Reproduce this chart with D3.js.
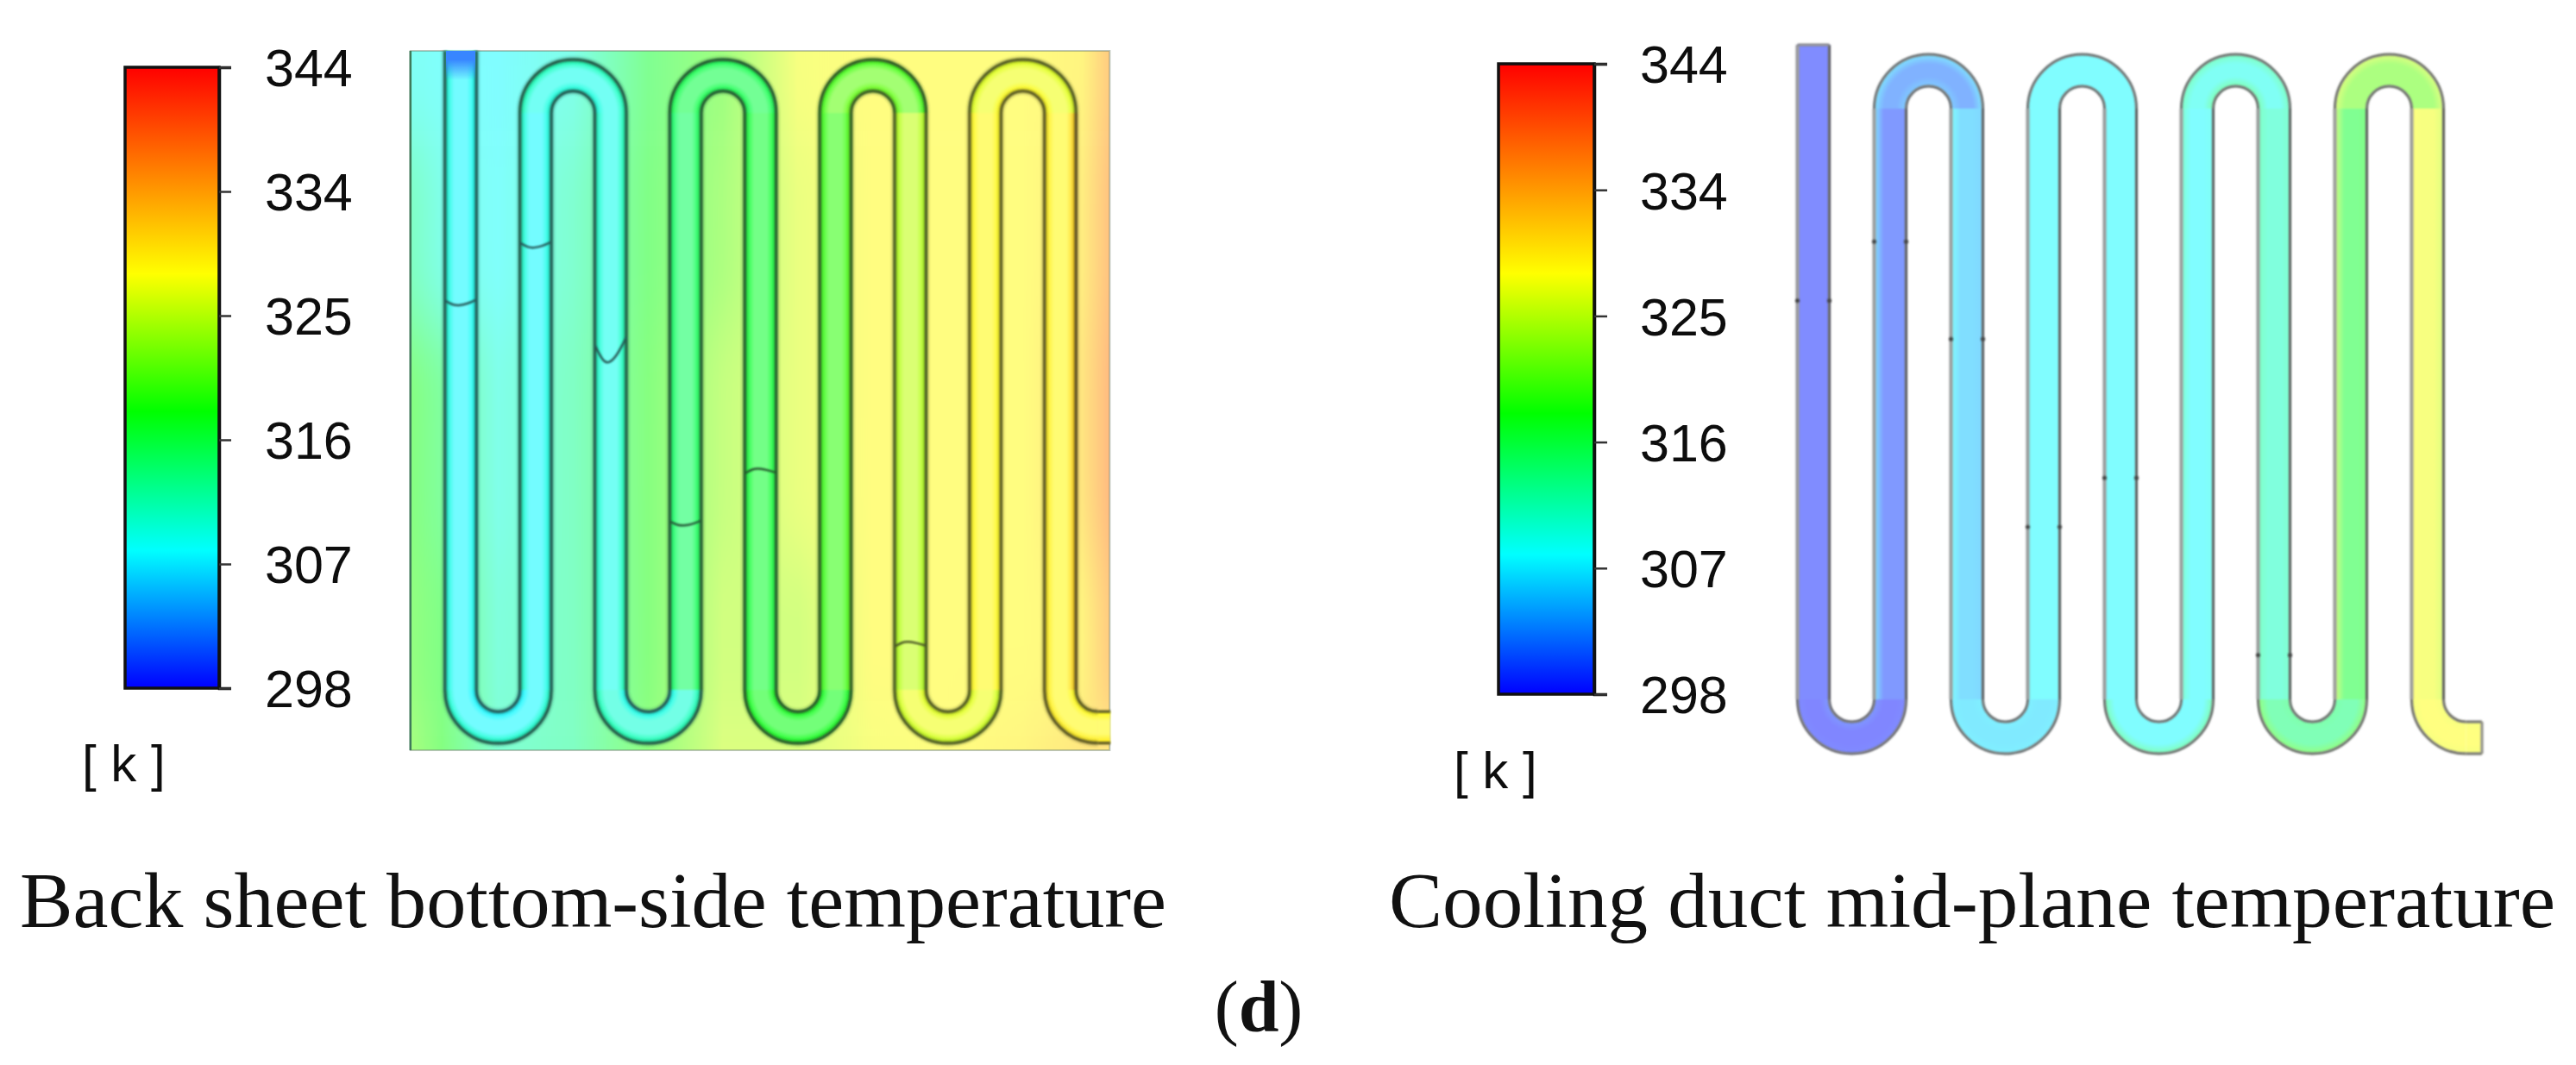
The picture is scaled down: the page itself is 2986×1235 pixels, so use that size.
<!DOCTYPE html>
<html>
<head>
<meta charset="utf-8">
<script src="https://cdn.jsdelivr.net/npm/d3@7"></script>
<style>
body { margin: 0; background: #fff; }
text { fill: #111; }
</style>
</head>
<body>
<div id="chart"></div>
<script>
// colour legend, same for both panels
var barTicks = [298, 307.2, 316.4, 325.6, 334.8, 344];
var barLabels = ["298", "307", "316", "325", "334", "344"];
var jetTemps = [298, 308.2, 318.5, 328.7, 344];
var jetColors = ["#0000ff", "#00ffff", "#00ff00", "#ffff00", "#ff0000"];

var sheetU = [-0.67, -0.25, 0.5, 1.5, 2.5, 3.5, 4.5, 5.5, 6.5, 7.5, 8.3, 8.66];
var sheetRowAt = [0.01, 0.24, 0.54, 0.91, 1];
var sheetRows = [
    [309, 308.5, 308, 310, 317, 321, 328, 329, 329, 329, 330, 335],
    [313, 310, 308.5, 312, 318, 322, 327, 329, 329, 329, 331, 336],
    [319, 316, 310, 313, 319, 324, 327, 329, 329, 329, 332, 337],
    [320, 318, 311, 313, 319, 325, 325, 329, 329, 329, 330, 335],
    [322, 319, 312, 313, 320, 326, 326, 328, 329, 330, 332, 331]
];

// duct temps across each pass: left wall, middle, right wall
var sheetPass = [
    [310, 308, 309], [311, 308, 310], [311, 309, 312], [315, 315, 316], [317, 317, 317],
    [320, 320, 321], [325, 326, 325], [329, 329, 329], [330, 329, 332]
];
// across each bend: inner wall, middle, outer wall
var sheetBottom = [[308, 308, 311], [309, 310, 312], [318, 318, 318], [327, 328, 326], [329, 329, 330]];
var sheetTop = [[310, 309, 312], [316, 316, 316], [322, 322, 320], [329, 328, 327]];

var midPass = [
    [299, 299, 299], [306, 300, 300], [308, 305.5, 305], [308, 308, 308], [308, 308, 308],
    [312, 308, 309], [313, 311, 312], [325, 317, 318], [328.7, 328, 326]
];
var midBottom = [[300, 298.5, 299], [307, 306.5, 307], [308, 308, 314], [315, 314, 320], [328, 328.7, 328]];
var midTop = [[304, 302, 306], [308, 308, 308], [314, 309, 313], [322, 322, 326]];

// little kinks on the duct walls: which pass, how far along it, how deep
var kinkPass = [0, 1, 2, 3, 4, 6];
var kinkAt = [0.325, 0.225, 0.39, 0.708, 0.625, 0.925];
var kinkDepth = [6, 6, 30, 5, -6, -6];

var width = 2986, height = 1235;
var svg = d3.select("#chart").append("svg")
    .attr("width", width)
    .attr("height", height)
    .style("display", "block");
var defs = svg.append("defs");

var jet = d3.scaleLinear().domain(jetTemps).range(jetColors).clamp(true);
function tint(t, white) {
    return d3.interpolateRgb(jet(t), "#ffffff")(white);
}

var soft = defs.append("filter").attr("id", "soft");
soft.append("feGaussianBlur").attr("stdDeviation", 1.2);
var softText = defs.append("filter").attr("id", "softText");
softText.append("feGaussianBlur").attr("stdDeviation", 0.6);
var sheetBlur = defs.append("filter").attr("id", "sheetBlur")
    .attr("x", "-5%").attr("y", "-60%").attr("width", "110%").attr("height", "220%");
sheetBlur.append("feGaussianBlur").attr("stdDeviation", "0 45");

var barGrad = defs.append("linearGradient").attr("id", "barGrad")
    .attr("x1", 0).attr("y1", 1).attr("x2", 0).attr("y2", 0);
jetTemps.forEach(function (t, i) {
    barGrad.append("stop")
        .attr("offset", (t - 298) / 46)
        .attr("stop-color", jetColors[i]);
});

function drawBar(x0, x1, yTop, yBottom, tickLen, padding, unitX, unitY) {
    var y = d3.scaleLinear().domain([298, 344]).range([yBottom, yTop]);
    svg.append("rect")
        .attr("x", x0).attr("y", yTop)
        .attr("width", x1 - x0).attr("height", yBottom - yTop)
        .attr("fill", "url(#barGrad)")
        .attr("stroke", "#111")
        .attr("stroke-width", 3.5);

    var axis = d3.axisRight(y)
        .tickValues(barTicks)
        .tickFormat(function (d, i) { return barLabels[i]; })
        .tickSize(tickLen)
        .tickPadding(padding);
    var g = svg.append("g")
        .attr("transform", "translate(" + x1 + ",0)")
        .call(axis);
    g.select(".domain").attr("stroke", "#111").attr("stroke-width", 3.5);
    g.selectAll(".tick line").attr("stroke", "#333").attr("stroke-width", 2.5);
    g.selectAll(".tick text")
        .attr("font-family", "'Liberation Sans', Arial, sans-serif")
        .attr("font-size", 61)
        .attr("fill", "#111")
        .attr("dy", "0.358em")
        .attr("filter", "url(#softText)");

    svg.append("text")
        .attr("x", unitX).attr("y", unitY)
        .attr("font-family", "'Liberation Sans', Arial, sans-serif")
        .attr("font-size", 60)
        .attr("filter", "url(#softText)")
        .text("[ k ]");
}

var gradCount = 0;
// stops across a duct section; white is how washed out the colour is at wall and middle
function addStops(grad, temps, whiteEdge, whiteMid, from, to) {
    var off = function (f) { return from + (to - from) * f; };
    grad.append("stop").attr("offset", off(0)).attr("stop-color", tint(temps[0], whiteEdge));
    grad.append("stop").attr("offset", off(0.3)).attr("stop-color", tint(temps[1], whiteMid));
    grad.append("stop").attr("offset", off(0.7)).attr("stop-color", tint(temps[1], whiteMid));
    grad.append("stop").attr("offset", off(1)).attr("stop-color", tint(temps[2], whiteEdge));
}

function drawPanel(p) {
    var g = svg.append("g").attr("filter", "url(#soft)");
    var x = d3.scaleLinear().domain([0, 8]).range(p.xRange);
    var y = d3.scaleLinear().domain([0, 1]).range(p.yRange);
    var w = p.ductWidth;
    var r = (x(1) - x(0)) / 2;
    var walls = svg.append("g").attr("filter", "url(#soft)");

    function wallColor(t, side) {
        if (p.grayWalls) return side < 0 ? "#9a9a9a" : "#5c5c5c";
        return d3.interpolateRgb(jet(t), "#303030")(0.8);
    }

    // straight passes
    p.pass.forEach(function (temps, i) {
        var id = "pass" + (gradCount++);
        var grad = defs.append("linearGradient").attr("id", id);
        addStops(grad, temps, p.whiteEdge, p.whiteMid, 0, 1);
        var top = i == 0 ? p.inletY : y(0);
        var bottom = y(1);
        g.append("rect")
            .attr("x", x(i) - w / 2).attr("y", top)
            .attr("width", w).attr("height", bottom - top)
            .attr("fill", "url(#" + id + ")");
    });

    // bends: radial gradient goes inner wall -> outer wall
    function bend(temps, cx, cy, a0, a1) {
        var id = "bend" + (gradCount++);
        var rOut = r + w / 2, rIn = r - w / 2;
        // centred on 0,0 because the path itself gets translated
        var grad = defs.append("radialGradient").attr("id", id)
            .attr("gradientUnits", "userSpaceOnUse")
            .attr("cx", 0).attr("cy", 0).attr("r", rOut);
        addStops(grad, temps, p.whiteEdge, p.whiteMid, rIn / rOut, 1);
        var arc = d3.arc().innerRadius(rIn).outerRadius(rOut).startAngle(a0).endAngle(a1);
        g.append("path")
            .attr("d", arc())
            .attr("transform", "translate(" + cx + "," + cy + ")")
            .attr("fill", "url(#" + id + ")");
        [rIn, rOut].forEach(function (rad, k) {
            var wall = d3.arc().innerRadius(rad).outerRadius(rad).startAngle(a0).endAngle(a1);
            var colour = p.grayWalls ? "#6e6e6e" : wallColor(temps[k * 2], 0);
            if (!p.grayWalls) {
                walls.append("path")
                    .attr("d", wall())
                    .attr("transform", "translate(" + cx + "," + cy + ")")
                    .attr("fill", "none")
                    .attr("stroke", colour)
                    .attr("stroke-opacity", 0.22)
                    .attr("stroke-width", 8);
            }
            walls.append("path")
                .attr("d", wall())
                .attr("transform", "translate(" + cx + "," + cy + ")")
                .attr("fill", "none")
                .attr("stroke", colour)
                .attr("stroke-width", p.wallWidth);
        });
    }

    p.top.forEach(function (temps, i) {
        bend(temps, x(2 * i + 1.5), y(0), -Math.PI / 2, Math.PI / 2);
    });
    p.bottom.forEach(function (temps, i) {
        if (i < 4) {
            bend(temps, x(2 * i + 0.5), y(1), Math.PI / 2, Math.PI * 1.5);
        } else {
            // last pass only turns a quarter and runs out to the right
            var cx = x(8) + r;
            bend(temps, cx, y(1), Math.PI, Math.PI * 1.5);
            var id = "tail" + (gradCount++);
            var grad = defs.append("linearGradient").attr("id", id)
                .attr("x1", 0).attr("y1", 0).attr("x2", 0).attr("y2", 1);
            addStops(grad, temps, p.whiteEdge, p.whiteMid, 0, 1);
            g.append("rect")
                .attr("x", cx).attr("y", y(1) + r - w / 2)
                .attr("width", p.tailEnd - cx).attr("height", w)
                .attr("fill", "url(#" + id + ")");
            [r - w / 2, r + w / 2].forEach(function (dy, k) {
                walls.append("line")
                    .attr("x1", cx).attr("x2", p.tailEnd)
                    .attr("y1", y(1) + dy).attr("y2", y(1) + dy)
                    .attr("stroke", p.grayWalls ? "#6e6e6e" : wallColor(temps[k * 2], 0))
                    .attr("stroke-width", p.wallWidth);
            });
            if (p.grayWalls) {
                walls.append("line")
                    .attr("x1", p.tailEnd).attr("x2", p.tailEnd)
                    .attr("y1", y(1) + r - w / 2).attr("y2", y(1) + r + w / 2)
                    .attr("stroke", "#8a8a8a").attr("stroke-width", p.wallWidth);
            }
        }
    });

    // walls of the passes
    p.pass.forEach(function (temps, i) {
        [-1, 1].forEach(function (side) {
            var colour = wallColor(side < 0 ? temps[0] : temps[2], side);
            var wallX = x(i) + side * w / 2;
            var top = i == 0 ? p.inletY : y(0);
            if (!p.grayWalls) {
                walls.append("line")
                    .attr("x1", wallX).attr("x2", wallX)
                    .attr("y1", top).attr("y2", y(1))
                    .attr("stroke", colour)
                    .attr("stroke-opacity", 0.22)
                    .attr("stroke-width", 8);
            }
            walls.append("line")
                .attr("x1", wallX).attr("x2", wallX)
                .attr("y1", top).attr("y2", y(1))
                .attr("stroke", colour)
                .attr("stroke-width", p.grayWalls && side < 0 ? p.wallWidth + 1 : p.wallWidth);
        });
    });

    // kinks
    var kink = d3.line().curve(d3.curveBasis);
    kinkPass.forEach(function (pass, i) {
        var cx = x(pass), cy = y(kinkAt[i]), d = kinkDepth[i];
        if (p.grayWalls) {
            [-1, 1].forEach(function (side) {
                walls.append("circle")
                    .attr("cx", cx + side * w / 2).attr("cy", cy)
                    .attr("r", 2.6)
                    .attr("fill", "#444");
            });
        } else {
            var pts = [
                [cx - w / 2, cy + (d > 10 ? 8 : 0)],
                [cx - w / 4, cy + d * 0.9],
                [cx - w / 16, cy + d],
                [cx + w / 5, cy + d * 0.7],
                [cx + w / 2, cy - 1]
            ];
            walls.append("path")
                .attr("d", kink(pts))
                .attr("fill", "none")
                .attr("stroke", wallColor(p.pass[pass][1], 0))
                .attr("stroke-width", 2.5);
        }
    });

    if (p.grayWalls) {
        walls.append("line")
            .attr("x1", x(0) - w / 2).attr("x2", x(0) + w / 2)
            .attr("y1", p.inletY).attr("y2", p.inletY)
            .attr("stroke", "#8a8a8a").attr("stroke-width", p.wallWidth);
    }
}

function drawSheet(p) {
    var clip = defs.append("clipPath").attr("id", "sheetClip");
    var x = d3.scaleLinear().domain([0, 8]).range(p.xRange);
    var y = d3.scaleLinear().domain([0, 1]).range(p.sheetY);
    var x0 = x(sheetU[0]), x1 = x(sheetU[sheetU.length - 1]);
    clip.append("rect")
        .attr("x", x0).attr("y", p.sheetY[0])
        .attr("width", x1 - x0).attr("height", p.sheetY[1] - p.sheetY[0]);

    var outer = svg.append("g").attr("clip-path", "url(#sheetClip)");
    var rows = outer.append("g").attr("filter", "url(#sheetBlur)");
    sheetRows.forEach(function (row, i) {
        var id = "sheetRow" + i;
        var grad = defs.append("linearGradient").attr("id", id);
        row.forEach(function (t, j) {
            grad.append("stop")
                .attr("offset", (x(sheetU[j]) - x0) / (x1 - x0))
                .attr("stop-color", tint(t, 0.5));
        });
        var top = i == 0 ? y(0) - 150 : (y(sheetRowAt[i - 1]) + y(sheetRowAt[i])) / 2;
        var bottom = i == sheetRows.length - 1 ? y(1) + 150 : (y(sheetRowAt[i]) + y(sheetRowAt[i + 1])) / 2;
        rows.append("rect")
            .attr("x", x0).attr("y", top)
            .attr("width", x1 - x0).attr("height", bottom - top)
            .attr("fill", "url(#" + id + ")");
    });

    // thin border of the sheet
    svg.append("rect")
        .attr("x", x0).attr("y", p.sheetY[0])
        .attr("width", x1 - x0).attr("height", p.sheetY[1] - p.sheetY[0])
        .attr("fill", "none")
        .attr("stroke", "#6b7f6b")
        .attr("stroke-opacity", 0.45)
        .attr("stroke-width", 2);
    svg.append("line")
        .attr("x1", x0).attr("x2", x0)
        .attr("y1", p.sheetY[0]).attr("y2", p.sheetY[1])
        .attr("stroke", "#3f7a5a")
        .attr("stroke-width", 2.5);
}

var leftPanel = {
    xRange: [534, 1229], yRange: [131, 800], ductWidth: 36.5, inletY: 59, tailEnd: 1287,
    sheetY: [59, 870],
    pass: sheetPass, top: sheetTop, bottom: sheetBottom,
    whiteEdge: 0.08, whiteMid: 0.45, wallWidth: 3.2, grayWalls: false
};
var rightPanel = {
    xRange: [2102, 2814], yRange: [126, 811], ductWidth: 37, inletY: 52, tailEnd: 2877,
    pass: midPass, top: midTop, bottom: midBottom,
    whiteEdge: 0.5, whiteMid: 0.5, wallWidth: 3, grayWalls: true
};

drawBar(145, 254, 78, 798, 14, 39, 95, 906);
drawBar(1737, 1848, 74, 805, 15, 38, 1685, 914);

drawSheet(leftPanel);
drawPanel(leftPanel);
drawPanel(rightPanel);

// blue patch where the coolant comes in
var inlet = defs.append("linearGradient").attr("id", "inlet")
    .attr("x1", 0).attr("y1", 0).attr("x2", 0).attr("y2", 1);
inlet.append("stop").attr("offset", 0.3).attr("stop-color", tint(302, 0.22));
inlet.append("stop").attr("offset", 1).attr("stop-color", tint(302, 0.22)).attr("stop-opacity", 0);
svg.append("rect")
    .attr("x", 534 - 17).attr("y", 59)
    .attr("width", 34).attr("height", 34)
    .attr("fill", "url(#inlet)");

// captions
function caption(x0, x1, y, str) {
    svg.append("text")
        .attr("x", x0).attr("y", y)
        .attr("textLength", x1 - x0)
        .attr("lengthAdjust", "spacingAndGlyphs")
        .attr("font-family", "'Liberation Serif', 'Times New Roman', serif")
        .attr("font-size", 90)
        .text(str);
}
caption(23, 1352, 1075, "Back sheet bottom-side temperature");
caption(1610, 2962, 1075, "Cooling duct mid-plane temperature");

var sub = svg.append("text")
    .attr("x", 1459).attr("y", 1196)
    .attr("text-anchor", "middle")
    .attr("font-family", "'Liberation Serif', 'Times New Roman', serif")
    .attr("font-size", 84);
sub.append("tspan").text("(");
sub.append("tspan").attr("font-weight", "bold").text("d");
sub.append("tspan").text(")");
</script>
</body>
</html>
